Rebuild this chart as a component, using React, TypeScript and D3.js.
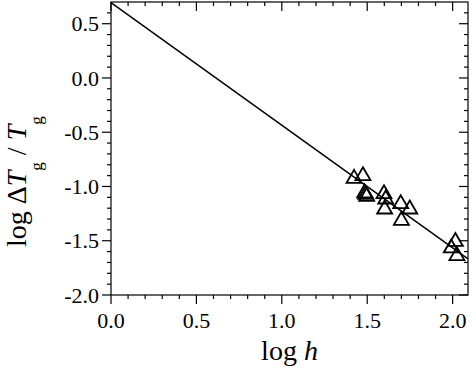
import React from "react";
import * as d3 from "d3";

// measured points (log h, log ΔTg/Tg)
const logH = [1.423, 1.475, 1.485, 1.491, 1.497, 1.598, 1.608, 1.602, 1.696, 1.749, 1.7, 2.016, 1.992, 2.025];
const logDT = [-0.927, -0.902, -1.06, -1.075, -1.092, -1.068, -1.117, -1.209, -1.16, -1.209, -1.314, -1.508, -1.568, -1.639];

// fitted line: log ΔTg/Tg = a + b log h
const fitIntercept = 0.695;
const fitSlope = -1.13;

const xTicks = [0, 0.5, 1.0, 1.5, 2.0];
const xTickLabels = ["0.0", "0.5", "1.0", "1.5", "2.0"];
const yTicks = [0.5, 0, -0.5, -1.0, -1.5, -2.0];
const yTickLabels = ["0.5", "0.0", "-0.5", "-1.0", "-1.5", "-2.0"];

const W = 475;
const H = 368;
const left = 111;
const right = 468;
const top = 2;
const bottom = 295;

const font = "Liberation Serif, Times New Roman, serif";

export default function App() {
  const x = d3.scaleLinear().domain([0, 2.09]).range([left, right]);
  const y = d3.scaleLinear().domain([-2, 0.7]).range([bottom, top]);

  const xMinor = d3.range(0, 21).map((i) => i / 10).filter((v) => v <= 2.09);
  const yMinor = d3.range(-20, 8).map((i) => i / 10).filter((v) => v > -2 && v < 0.7);

  const tri = d3.symbol(d3.symbolTriangle, 97)() as string;
  const fitLine = d3
    .line<number>()
    .x((d) => x(d))
    .y((d) => y(fitIntercept + fitSlope * d));

  const major = 9;
  const minor = 4;

  return (
    <svg
      width={W}
      height={H}
      style={{ position: "absolute", left: 0, top: 0, background: "#fff" }}
    >
      {/* frame */}
      <rect
        x={left}
        y={top}
        width={right - left}
        height={bottom - top}
        fill="none"
        stroke="#000"
        strokeWidth={1.2}
      />

      {/* x ticks: bottom outward, top inward */}
      {xMinor.map((v, i) => {
        const isMajor = Math.abs(v * 2 - Math.round(v * 2)) < 1e-6;
        const len = isMajor ? major : minor;
        return (
          <g key={"xm" + i} stroke="#000" strokeWidth={1.2}>
            <line x1={x(v)} x2={x(v)} y1={bottom} y2={bottom + len} />
            <line x1={x(v)} x2={x(v)} y1={top} y2={top + len} />
          </g>
        );
      })}

      {/* y ticks: left outward, right inward */}
      {[...yMinor, -2].map((v, i) => {
        const isMajor = Math.abs(v * 2 - Math.round(v * 2)) < 1e-6;
        const len = isMajor ? major : minor;
        return (
          <g key={"ym" + i} stroke="#000" strokeWidth={1.2}>
            <line x1={left - len} x2={left} y1={y(v)} y2={y(v)} />
            <line x1={right - len} x2={right} y1={y(v)} y2={y(v)} />
          </g>
        );
      })}

      {/* tick labels */}
      {xTicks.map((v, i) => (
        <text
          key={"xl" + i}
          x={x(v)}
          y={328}
          textAnchor="middle"
          fontFamily={font}
          fontSize={22}
          fill="#000"
        >
          {xTickLabels[i]}
        </text>
      ))}
      {yTicks.map((v, i) => (
        <text
          key={"yl" + i}
          x={99}
          y={y(v) + 7.7}
          textAnchor="end"
          fontFamily={font}
          fontSize={22}
          fill="#000"
        >
          {yTickLabels[i]}
        </text>
      ))}

      {/* fit line */}
      <path
        d={fitLine([0, 2.09]) as string}
        fill="none"
        stroke="#000"
        strokeWidth={1.5}
      />

      {/* data */}
      {logH.map((h, i) => (
        <path
          key={"p" + i}
          d={tri}
          transform={`translate(${x(h)},${y(logDT[i])})`}
          fill="none"
          stroke="#000"
          strokeWidth={1.8}
        />
      ))}

      {/* axis titles */}
      <text
        x={(left + right) / 2}
        y={360}
        textAnchor="middle"
        fontFamily={font}
        fontSize={28}
        fill="#000"
      >
        log <tspan fontStyle="italic">h</tspan>
      </text>
      <text
        transform="translate(26,247) rotate(-90)"
        fontFamily={font}
        fontSize={28}
        fill="#000"
      >
        log Δ<tspan fontStyle="italic">T</tspan>
        <tspan fontSize={17} dy={16}>g</tspan>
        <tspan dy={-16}> / </tspan>
        <tspan fontStyle="italic">T</tspan>
        <tspan fontSize={17} dy={16}>g</tspan>
      </text>
    </svg>
  );
}
